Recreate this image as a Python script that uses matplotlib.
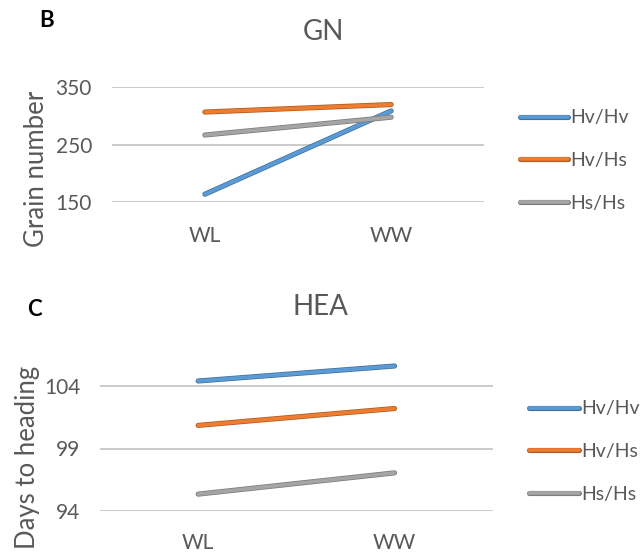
"""
Grain number (GN) and days to heading (HEA) for three haplotype
combinations under water-limited (WL) and well-watered (WW) conditions.
"""

import matplotlib
matplotlib.use("Agg")
import matplotlib.pyplot as plt
import matplotlib.patheffects as pe

# Conditions on the x axis
conditions = ["WL", "WW"]
genotypes = ["Hv/Hv", "Hv/Hs", "Hs/Hs"]

# Panel B: grain number
gn_hv_hv = [164, 309]
gn_hv_hs = [307, 320]
gn_hs_hs = [267, 298]

# Panel C: days to heading
hea_hv_hv = [104.4, 105.6]
hea_hv_hs = [100.85, 102.2]
hea_hs_hs = [95.35, 97.05]

colors = ["#5B9BD5", "#ED7D31", "#A5A5A5"]
edges = ["#41719C", "#AE5A21", "#7C7C7C"]
text_color = "#595959"

W, H = 644, 554

plt.rcParams["font.family"] = ["Lato", "DejaVu Sans"]


def px(x, y):
    # figure fraction from pixel position (origin top left)
    return x / W, 1 - y / H


def line_fx(edge):
    return [pe.Stroke(linewidth=3.7, foreground=edge), pe.Normal()]


def draw_panel(ax, series, ylim, yticks, x_pad):
    xs = [0.5, 1.5]
    for vals, col, edge, name in zip(series, colors, edges, genotypes):
        ax.plot(xs, vals, color=col, lw=2.6, label=name, solid_capstyle="round",
                path_effects=line_fx(edge), clip_on=False)
    ax.set_xlim(0, 2)
    ax.set_ylim(*ylim)
    ax.set_yticks(yticks)
    ax.set_xticks(xs)
    ax.set_xticklabels(conditions)
    ax.grid(axis="y", color="#BDBDBD", lw=1.1)
    ax.set_axisbelow(True)
    for s in ax.spines.values():
        s.set_visible(False)
    ax.tick_params(axis="both", length=0, labelsize=15, colors=text_color)
    ax.tick_params(axis="y", pad=14.2)
    ax.tick_params(axis="x", pad=x_pad)


def add_legend(fig, ax, left, mid_y, handlelength):
    handles, labels = ax.get_legend_handles_labels()
    leg = fig.legend(handles, labels, loc="center left",
                     bbox_to_anchor=px(left, mid_y), frameon=False,
                     fontsize=14, handlelength=handlelength, handletextpad=0.12,
                     labelspacing=1.33, borderpad=0, borderaxespad=0,
                     labelcolor=text_color)
    for h, edge in zip(leg.get_lines(), edges):
        h.set_linewidth(2.6)
        h.set_solid_capstyle("round")
        h.set_path_effects(line_fx(edge))


fig = plt.figure(figsize=(W / 100, H / 100), dpi=100)

# Panel B
ax_b = fig.add_axes([111.7 / W, 1 - 202.3 / H, 372.6 / W, 115 / H])
draw_panel(ax_b, [gn_hv_hv, gn_hv_hs, gn_hs_hs], (150, 350), [150, 250, 350], 17)
add_legend(fig, ax_b, 520, 160.8, 2.47)

# Panel C
ax_c = fig.add_axes([100 / W, 1 - 511 / H, 392.7 / W, 162.5 / H])
draw_panel(ax_c, [hea_hv_hv, hea_hv_hs, hea_hs_hs], (94, 107), [94, 99, 104], 15.5)
add_legend(fig, ax_c, 529.3, 451.7, 2.57)

# Axis titles
fig.text(*px(36.5, 169), "Grain number", rotation=90, ha="center", va="center",
         fontsize=18.5, color=text_color)
fig.text(*px(27, 457), "Days to heading", rotation=90, ha="center", va="center",
         fontsize=18.5, color=text_color)

# Panel titles and letters
fig.text(*px(323, 32), "GN", ha="center", va="center", fontsize=20, color=text_color)
fig.text(*px(320, 307), "HEA", ha="center", va="center", fontsize=20,
         color=text_color)
fig.text(*px(39, 20.5), "B", ha="left", va="center", fontsize=16,
         fontweight="bold", color="black")
fig.text(*px(27, 310), "C", ha="left", va="center", fontsize=16,
         fontweight="bold", color="black")

fig.savefig("out.png", dpi=100)
